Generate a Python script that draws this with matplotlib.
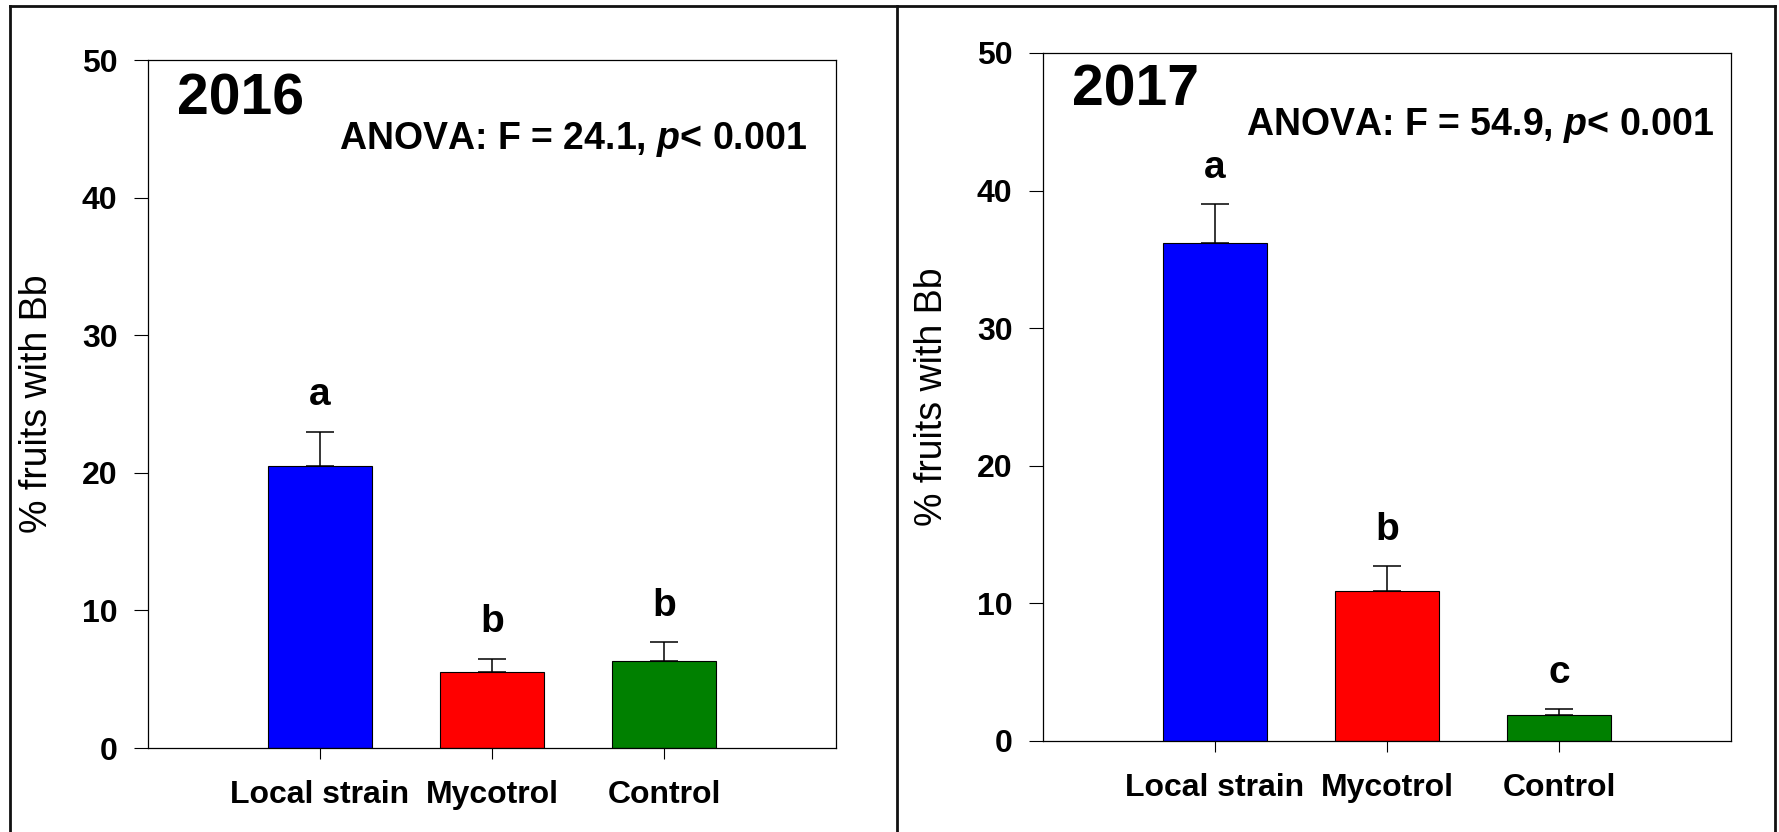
'''
Bar charts of % fruits with Bb for 2016 and 2017
'''
import matplotlib
matplotlib.use("Agg")
import matplotlib.pyplot as plt
from matplotlib.lines import Line2D

# Data
treatments = ["Local strain", "Mycotrol", "Control"]
bar_colors = ["#0000FF", "#FF0000", "#008000"]

years = ["2016", "2017"]
means_2016 = [20.5, 5.5, 6.3]
errs_2016 = [2.5, 1.0, 1.4]
letters_2016 = ["a", "b", "b"]
anova_2016 = "ANOVA: F = 24.1, $\\mathbfit{p}$< 0.001"

means_2017 = [36.2, 10.9, 1.9]
errs_2017 = [2.8, 1.8, 0.4]
letters_2017 = ["a", "b", "c"]
anova_2017 = "ANOVA: F = 54.9, $\\mathbfit{p}$< 0.001"

plt.rcParams['font.family'] = ['Liberation Sans', 'DejaVu Sans']
plt.rcParams['mathtext.fontset'] = 'custom'
plt.rcParams['mathtext.bfit'] = 'Liberation Sans:italic:bold'


def draw_panel(ax, year, means, errs, letters, anova, anova_xy, year_y):
    """
    Draw one bar panel
    """
    x = [1, 2, 3]
    ax.bar(x, means, width=0.6, color=bar_colors, edgecolor='black', linewidth=0.8,
           zorder=2)
    # only the upper whisker is shown
    ax.errorbar(x, means, yerr=[[0, 0, 0], errs], fmt='none', ecolor='black',
                elinewidth=1.1, capsize=10, capthick=1.1, zorder=3)
    # significance letters above the error bars
    for xi, m, e, let in zip(x, means, errs, letters):
        ax.text(xi, m + e + 1.9, let, ha='center', va='baseline',
                fontsize=28, fontweight='bold')

    ax.set_xlim(0, 4)
    ax.set_ylim(0, 50)
    ax.set_yticks([0, 10, 20, 30, 40, 50])
    ax.set_xticks(x)
    ax.set_xticklabels(treatments)
    for lab in ax.get_xticklabels() + ax.get_yticklabels():
        lab.set_fontweight('bold')
    ax.tick_params(axis='y', direction='out', length=10, width=0.8, pad=12,
                   labelsize=23, right=False)
    ax.tick_params(axis='x', direction='out', length=8, width=0.8, pad=15,
                   labelsize=23, top=False)
    for sp in ax.spines.values():
        sp.set_linewidth(0.9)

    ax.set_ylabel("% fruits with Bb", fontsize=27, labelpad=19)

    ax.text(0.042, year_y, year, transform=ax.transAxes, ha='left',
            va='baseline', fontsize=41, fontweight='bold')
    ax.text(anova_xy[0], anova_xy[1], anova, transform=ax.transAxes,
            ha='right', va='baseline', fontsize=27, fontweight='bold')


fig = plt.figure(figsize=(17.79, 8.32), dpi=100)
ax1 = fig.add_axes([148 / 1779, 84 / 832, 688 / 1779, 688 / 832])
ax2 = fig.add_axes([1043 / 1779, 91 / 832, 688 / 1779, 688 / 832])

draw_panel(ax1, years[0], means_2016, errs_2016, letters_2016, anova_2016,
           (0.958, 0.871), 0.921)
draw_panel(ax2, years[1], means_2017, errs_2017, letters_2017, anova_2017,
           (0.975, 0.881), 0.923)

# outer panel frames
frame = dict(color='#111111', linewidth=2.0, transform=fig.transFigure)
top = 1 - 6 / 832
fig.add_artist(Line2D([10 / 1779, 1775 / 1779], [top, top], **frame))
for xpix in [10, 897, 1775]:
    fig.add_artist(Line2D([xpix / 1779, xpix / 1779], [0, top], **frame))

fig.savefig("out.png", dpi=100)
